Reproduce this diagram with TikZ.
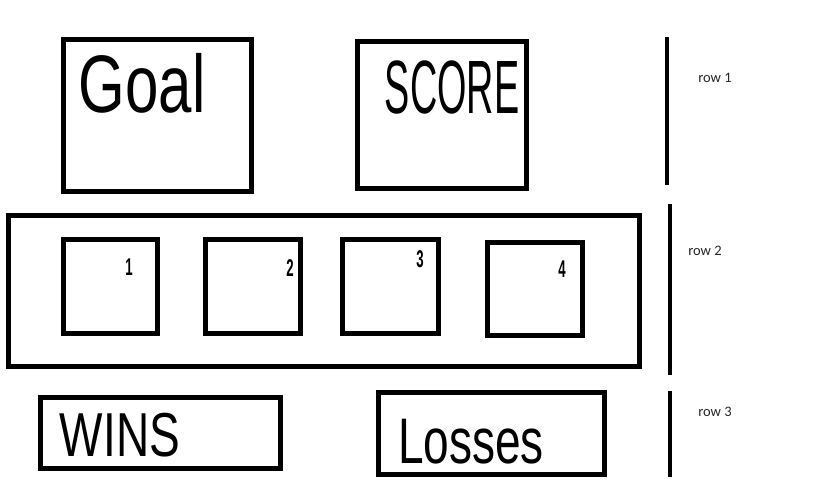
\documentclass[tikz,border=0pt]{standalone}
\usepackage{fontspec}
\usepackage{graphicx}
\setmainfont{Liberation Sans}
\newfontfamily\labelfont{Carlito}
\begin{document}
\begin{tikzpicture}[x=1pt,y=-1pt,
  box/.style={draw=black,line width=5pt,rectangle,inner sep=0pt,fill=none},
  rowbar/.style={line width=4pt,draw=black},
  rowlabel/.style={font=\labelfont\fontsize{14.5}{16}\selectfont,inner sep=0pt,text=black!85},
  hand/.style={inner sep=0pt,text=black},
  digit/.style={inner sep=0pt,text=black,font=\bfseries\fontsize{22}{22}\selectfont}]
\useasboundingbox[fill=white] (0,0) rectangle (813,492);
% row 1
\node[box,minimum width=188pt,minimum height=152pt] (goal) at (157.5,115.5) {};
\node[box,minimum width=169pt,minimum height=147pt] (score) at (442,115) {};
\node[hand,font=\fontsize{60}{60}\selectfont] (goaltext) at (142,83) {\scalebox{1}[1.36]{Goal}};
\node[hand,font=\fontsize{42}{42}\selectfont] (scoretext) at (452,87) {\scalebox{0.9}[1.8]{SCORE}};
% row 2
\node[box,minimum width=631pt,minimum height=151pt] (row2box) at (324,291) {};
\node[box,minimum width=94pt,minimum height=94pt] (b1) at (110.5,286.5) {};
\node[box,minimum width=95pt,minimum height=94pt] (b2) at (253,286.5) {};
\node[box,minimum width=96pt,minimum height=94pt] (b3) at (390.5,286.5) {};
\node[box,minimum width=95pt,minimum height=93pt] (b4) at (535,289) {};
\node[digit] (n1) at (129,267) {\scalebox{0.6}[1.1]{1}};
\node[digit] (n2) at (290,268) {\scalebox{0.6}[1.1]{2}};
\node[digit] (n3) at (420,259) {\scalebox{0.6}[1.1]{3}};
\node[digit] (n4) at (562,269) {\scalebox{0.6}[1.1]{4}};
% row 3
\node[box,minimum width=240pt,minimum height=71pt] (wins) at (160.5,433) {};
\node[box,minimum width=226pt,minimum height=82pt] (losses) at (491.5,433.5) {};
\node[hand,font=\fontsize{46}{46}\selectfont] (winstext) at (120,435) {\scalebox{1}[1.35]{WINS}};
\node[hand,font=\fontsize{46}{46}\selectfont] (lossestext) at (471,442) {\scalebox{1}[1.4]{Losses}};
% row bars and labels
\coordinate (r1top) at (667,37);
\coordinate (r1bot) at (667,185);
\coordinate (r2top) at (670,204);
\coordinate (r2bot) at (670,375);
\coordinate (r3top) at (670,391);
\coordinate (r3bot) at (670,477);
\draw[rowbar] (r1top) -- (r1bot);
\draw[rowbar] (r2top) -- (r2bot);
\draw[rowbar] (r3top) -- (r3bot);
\node[rowlabel] (row1) at (715,78) {row 1};
\node[rowlabel] (row2) at (705,251) {row 2};
\node[rowlabel] (row3) at (715,412) {row 3};
\end{tikzpicture}
\end{document}
